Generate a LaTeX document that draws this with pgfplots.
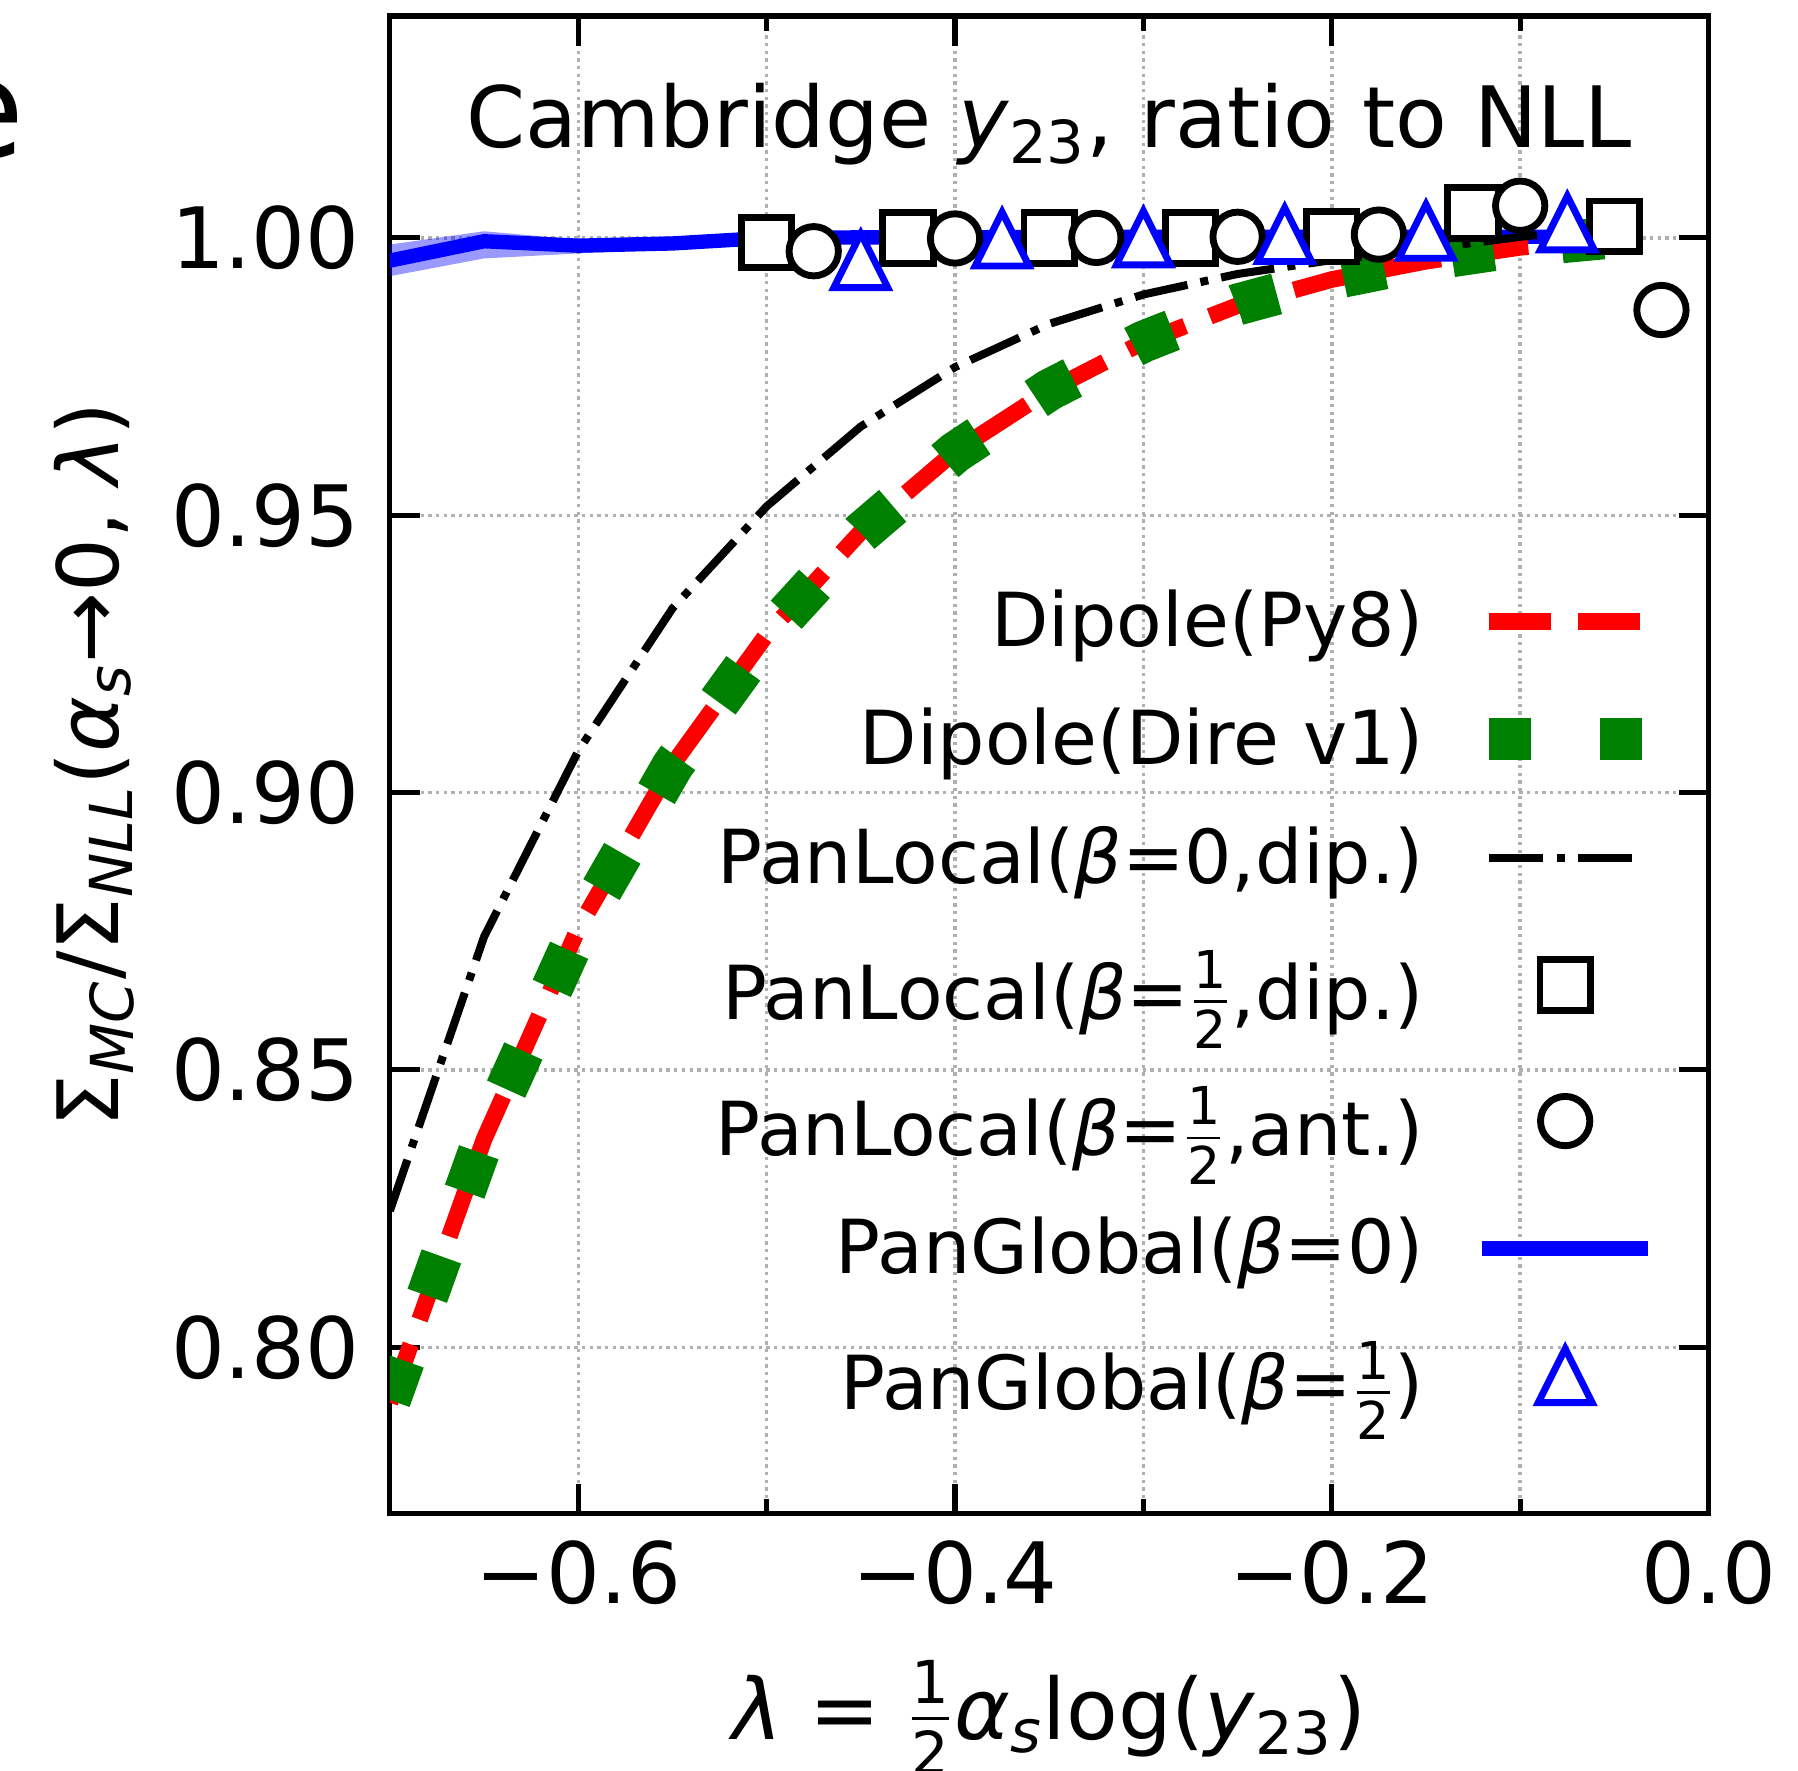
\documentclass[border=0pt]{standalone}
\usepackage{fontspec}
\setmainfont{DejaVu Sans}
\usepackage{amsmath}
\usepackage{pgfplots}
\pgfplotsset{compat=1.18}

\definecolor{gridgray}{RGB}{176,176,176}
\definecolor{mplgreen}{RGB}{0,128,0}

\newcommand{\fbig}{\fontsize{21}{25}\selectfont}
\newcommand{\fleg}{\fontsize{18.5}{22}\selectfont}
\newcommand{\half}{$\frac{\text{\raisebox{0.06em}{1}}}{\text{\raisebox{-0.1em}{2}}}$}
\newcommand{\halfleg}{\rule[-0.62em]{0pt}{1.62em}\half}

% matplotlib style triangle (bbox centred)
\pgfdeclareplotmark{mtri}{%
  \pgfpathmoveto{\pgfqpoint{0pt}{\pgfplotmarksize}}%
  \pgfpathlineto{\pgfqpoint{-\pgfplotmarksize}{-\pgfplotmarksize}}%
  \pgfpathlineto{\pgfqpoint{\pgfplotmarksize}{-\pgfplotmarksize}}%
  \pgfpathclose
  \pgfusepathqfillstroke}

\pgfplotsset{
  linelegend/.style={legend image code/.code={\draw[##1] (0cm,0cm) -- (#1,0cm);}},
  marklegend/.style={legend image code/.code={\path (0cm,0cm) (1.32cm,0cm); \draw[##1] plot coordinates {(0.66cm,0cm)};}},
}

\begin{document}
\begin{tikzpicture}
\begin{axis}[
    name=ax,
    scale only axis,
    width=11.5cm, height=13.06cm,
    xmin=-0.7, xmax=0, ymin=0.77, ymax=1.04,
    xtick={-0.6,-0.4,-0.2,0},
    xticklabels={−0.6,−0.4,−0.2,0.0},
    minor xtick={-0.5,-0.3,-0.1},
    ytick={0.8,0.85,0.9,0.95,1.0},
    yticklabels={0.80,0.85,0.90,0.95,1.00},
    tick align=inside,
    major tick length=0.26cm, minor tick length=0.13cm,
    tick style={black, line width=0.045cm},
    axis line style={line width=0.045cm},
    grid=both,
    major grid style={gridgray, line width=0.03cm, dash pattern=on 0.029cm off 0.038cm},
    minor grid style={gridgray, line width=0.03cm, dash pattern=on 0.029cm off 0.038cm},
    tick label style={font=\fbig},
    yticklabel style={xshift=-0.14cm},
    xticklabel style={yshift=-0.11cm},
    xlabel={\textit{λ} = \half\textit{α}\textsubscript{\itshape s}log(\textit{y}\textsubscript{23})},
    ylabel={Σ\textsubscript{\itshape MC}/Σ\textsubscript{\itshape NLL}(\textit{α}\textsubscript{\itshape s}→0, \textit{λ})},
    every axis x label/.style={at={(rel axis cs:0.5,-0.1508)}, anchor=base, font=\fbig},
    every axis y label/.style={at={(rel axis cs:-0.2061,0.5)}, rotate=90, anchor=base, font=\fbig},
    legend cell align=right,
    legend plot pos=right,
    legend style={draw=none, fill=none, font=\fleg,
        at={(rel axis cs:0.966,0.622)}, anchor=north east,
        inner sep=0pt, row sep=0.3635cm,
        nodes={inner sep=0.06cm},
        /tikz/every odd column/.append style={column sep=0.33cm}},
]

% PanGlobal(beta=0) band and line, drawn underneath
\addplot[draw=none, fill=blue, fill opacity=0.4, forget plot] coordinates {
    (-0.70,0.9988) (-0.65,1.0012) (-0.60,0.9997) (-0.55,0.9999) (-0.50,1.0008)
    (-0.45,1.0009) (-0.40,1.0009) (-0.35,1.0009) (-0.30,1.0009) (-0.25,1.0009)
    (-0.20,1.0009) (-0.15,1.0009) (-0.10,1.0009) (-0.05,1.0009)
    (-0.05,0.9995) (-0.10,0.9995) (-0.15,0.9995) (-0.20,0.9995) (-0.25,0.9995)
    (-0.30,0.9995) (-0.35,0.9995) (-0.40,0.9995) (-0.45,0.9994) (-0.50,0.9992)
    (-0.55,0.9980) (-0.60,0.9972) (-0.65,0.9963) (-0.70,0.9931)
} -- cycle;
\addplot[blue, line width=0.125cm, line cap=rect, line join=round, forget plot] coordinates {
    (-0.70,0.9959) (-0.65,0.9994) (-0.60,0.9986) (-0.55,0.9990) (-0.50,1.0000)
    (-0.45,1.0001) (-0.40,1.0001) (-0.35,1.0002) (-0.30,1.0002) (-0.25,1.0002)
    (-0.20,1.0002) (-0.15,1.0002) (-0.10,1.0002) (-0.05,1.0002)
};

% Dipole(Py8)
\addplot[red, line width=0.145cm, dash pattern=on 0.54cm off 0.23cm,
    linelegend=1.32cm] coordinates {
    (-0.70,0.7900) (-0.65,0.8375) (-0.60,0.8755) (-0.55,0.9050) (-0.50,0.9285)
    (-0.45,0.9470) (-0.40,0.9615) (-0.35,0.9725) (-0.30,0.9812) (-0.25,0.9878)
    (-0.20,0.9925) (-0.15,0.9958) (-0.10,0.9983) (-0.05,0.9998)
};
\addlegendentry{Dipole(Py8)}

% Dipole(Dire v1)
\addplot[mplgreen, line width=0.365cm, dash pattern=on 0.365cm off 0.6cm,
    linelegend=1.33cm] coordinates {
    (-0.70,0.7905) (-0.65,0.8378) (-0.60,0.8752) (-0.55,0.9048) (-0.50,0.9282)
    (-0.45,0.9468) (-0.40,0.9613) (-0.35,0.9726) (-0.30,0.9813) (-0.25,0.9880)
    (-0.20,0.9926) (-0.15,0.9960) (-0.10,0.9985) (-0.05,1.0001)
};
\addlegendentry{Dipole(Dire v1)}

% PanLocal(beta=0,dip.)
\addplot[black, line width=0.07cm, dash pattern=on 0.47cm off 0.115cm on 0.07cm off 0.115cm,
    linelegend=1.25cm] coordinates {
    (-0.70,0.8246) (-0.65,0.8740) (-0.60,0.9075) (-0.55,0.9332) (-0.50,0.9516)
    (-0.45,0.9660) (-0.40,0.9767) (-0.35,0.9845) (-0.30,0.9898) (-0.25,0.9935)
    (-0.20,0.9960) (-0.15,0.9980) (-0.10,1.0002) (-0.05,1.0020)
};
\addlegendentry{PanLocal(\textit{β}=0,dip.)}

% PanLocal(beta=1/2,dip.)
\addplot[only marks, mark=square*, mark size=0.22cm,
    mark options={draw=black, fill=white, line width=0.06cm, line join=miter, solid},
    marklegend] coordinates {
    (-0.500,0.9992) (-0.425,1.0000) (-0.350,1.0000) (-0.275,1.0000)
    (-0.200,1.0002) (-0.125,1.0045) (-0.050,1.0021)
};
\addlegendentry{PanLocal(\textit{β}=\halfleg,dip.)}

% PanLocal(beta=1/2,ant.)
\addplot[only marks, mark=*, mark size=0.215cm,
    mark options={draw=black, fill=white, line width=0.06cm, solid},
    marklegend] coordinates {
    (-0.475,0.9976) (-0.400,0.9999) (-0.325,1.0000) (-0.250,1.0002)
    (-0.175,1.0006) (-0.100,1.0058) (-0.025,0.9870)
};
\addlegendentry{PanLocal(\textit{β}=\halfleg,ant.)}

% legend entry for the PanGlobal(beta=0) line drawn first
\addlegendimage{blue, line width=0.125cm, line cap=rect, linelegend=1.32cm}
\addlegendentry{PanGlobal(\textit{β}=0)}

% PanGlobal(beta=1/2)
\addplot[only marks, mark=mtri, mark size=0.235cm,
    mark options={draw=blue, fill=white, line width=0.06cm, line join=miter, solid},
    marklegend] coordinates {
    (-0.450,0.9959) (-0.375,0.9998) (-0.300,1.0000) (-0.225,1.0006)
    (-0.150,1.0012) (-0.075,1.0027)
};
\addlegendentry{PanGlobal(\textit{β}=\halfleg)}

\node[font=\fbig, anchor=base] at (rel axis cs:0.5,0.912)
    {Cambridge \textit{y}\textsubscript{23}, ratio to NLL};
\end{axis}

\node[font=\fontsize{34}{40}\selectfont, anchor=base east, inner sep=0pt]
    at ([xshift=-3.18cm,yshift=-1.23cm]ax.north west) {e};

\pgfresetboundingbox
\path[use as bounding box] ([xshift=-3.40cm,yshift=-2.24cm]ax.south west)
    rectangle ([xshift=0.78cm,yshift=0.14cm]ax.north east);
\end{tikzpicture}
\end{document}
